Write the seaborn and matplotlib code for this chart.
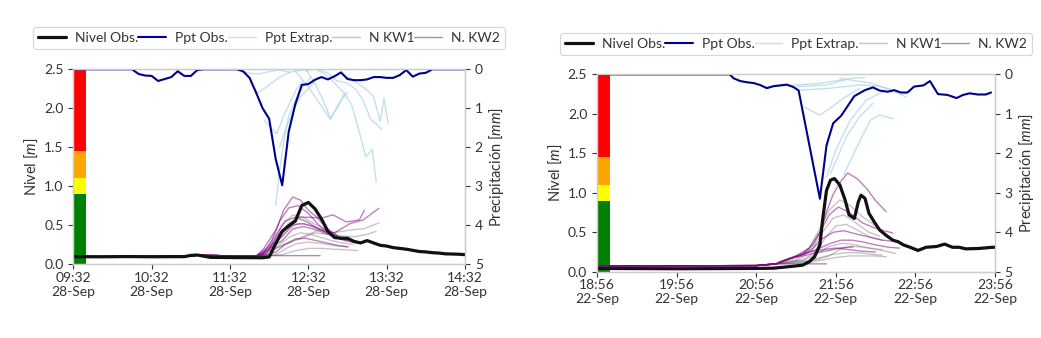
import numpy as np
import pandas as pd
import matplotlib
matplotlib.use("Agg")
import matplotlib.pyplot as plt
import matplotlib.dates as mdates
from matplotlib.lines import Line2D
import seaborn as sns

# ---------------- data: left panel (28-Sep, start 09:32) ----------------
L_start = "2021-09-28 09:32"
# observed precipitation (minutes from start, mm)
L_ppt_t = [0, 45, 50, 55, 60, 65, 70, 75, 80, 85, 90, 95, 100, 125, 130, 135, 140, 145, 150,
           155, 160, 165, 170, 175, 180, 185, 190, 195, 200, 205, 210, 215, 220, 225, 230,
           235, 240, 245, 250, 255, 260, 265, 270, 275, 300]
L_ppt_v = [0, 0, 0.12, 0.16, 0.17, 0.3, 0.25, 0.2, 0.05, 0.17, 0.17, 0.02, 0, 0, 0.05, 0.22,
           0.6, 1.0, 1.27, 2.3, 2.98, 1.6, 0.9, 0.4, 0.38, 0.27, 0.2, 0.26, 0.18, 0.08, 0.25,
           0.28, 0.28, 0.26, 0.2, 0.2, 0.22, 0.22, 0.15, 0.02, 0.19, 0.11, 0.09, 0.0, 0]
# observed level (m)
L_lvl_t = [0, 20, 40, 60, 85, 90, 95, 100, 105, 125, 145, 150, 155, 160, 165, 170, 175, 180,
           185, 190, 195, 200, 205, 210, 215, 220, 225, 230, 235, 240, 245, 250, 255, 260,
           265, 270, 275, 280, 285, 290, 295, 300]
L_lvl_v = [0.094, 0.092, 0.095, 0.093, 0.094, 0.11, 0.115, 0.1, 0.085, 0.082, 0.08, 0.09, 0.26,
           0.42, 0.49, 0.55, 0.75, 0.79, 0.71, 0.58, 0.42, 0.34, 0.33, 0.33, 0.29, 0.27, 0.3,
           0.27, 0.24, 0.23, 0.21, 0.2, 0.19, 0.175, 0.16, 0.155, 0.145, 0.14, 0.13, 0.128,
           0.125, 0.12]
# extrapolated precipitation runs
L_ext = [
    ([128, 135, 142, 150, 158, 166], [0.05, 0.1, 0.12, 0.06, 0.02, 0.08]),
    ([136, 141, 146, 152, 158, 166, 172], [0.35, 0.6, 0.5, 0.35, 0.2, 0.08, 0.03]),
    ([146, 151, 156, 161, 166, 171, 176], [1.3, 1.5, 1.65, 1.2, 0.85, 0.5, 0.3]),
    ([155, 158, 161, 165, 170, 176, 182], [3.5, 2.6, 1.9, 1.2, 0.8, 0.45, 0.2]),
    ([158, 163, 168, 174, 180, 186], [2.0, 1.5, 1.1, 0.7, 0.5, 0.25]),
    ([170, 179, 188, 197, 204, 210], [0.05, 0.4, 0.85, 1.29, 0.83, 0.6]),
    ([172, 178, 184, 190, 197, 203, 208], [0.05, 0.0, 0.3, 0.7, 1.25, 0.95, 0.6]),
    ([178, 185, 192, 200, 207, 213, 219, 224, 229, 232], [0.05, 0.0, 0.1, 0.35, 0.6, 0.9, 1.6, 2.25, 2.05, 2.9]),
    ([188, 195, 202, 209, 216, 222, 228, 232, 236], [0.0, 0.1, 0.3, 0.35, 0.5, 0.8, 1.3, 1.4, 1.55]),
    ([205, 215, 225, 230, 235, 238, 241], [0.1, 0.3, 0.53, 0.7, 1.34, 0.74, 1.38]),
]
# model base (shared history) and forecasts
L_base_t = [0, 60, 85, 95, 110, 125, 140]
L_base_v = [0.095, 0.095, 0.1, 0.112, 0.108, 0.1, 0.1]
L_kw1 = [
    ([145, 152, 160, 168, 176, 184, 192, 200, 208], [0.12, 0.3, 0.5, 0.63, 0.6, 0.52, 0.45, 0.38, 0.33]),
    ([148, 156, 164, 172, 180, 188, 196, 204, 212, 220], [0.13, 0.3, 0.45, 0.52, 0.5, 0.45, 0.4, 0.35, 0.3, 0.28]),
    ([150, 158, 166, 174, 182, 190, 198, 206, 214], [0.12, 0.25, 0.35, 0.4, 0.38, 0.34, 0.3, 0.27, 0.25]),
    ([155, 163, 171, 179, 187, 195, 203, 211], [0.12, 0.2, 0.26, 0.28, 0.27, 0.25, 0.23, 0.22]),
    ([160, 170, 180, 190, 200, 210, 218], [0.12, 0.17, 0.2, 0.2, 0.19, 0.18, 0.17]),
    ([190, 198, 206, 214, 222, 230, 234], [0.45, 0.4, 0.42, 0.44, 0.45, 0.5, 0.53]),
    ([185, 195, 205, 215, 225, 232], [0.4, 0.38, 0.36, 0.35, 0.38, 0.42]),
]
L_kw2 = [
    ([146, 156, 161, 168, 174, 180, 186, 194, 202], [0.2, 0.46, 0.69, 0.86, 0.82, 0.69, 0.61, 0.46, 0.37]),
    ([145, 152, 158, 165, 172, 180, 188, 196, 205], [0.12, 0.3, 0.55, 0.72, 0.75, 0.65, 0.5, 0.4, 0.33]),
    ([148, 155, 162, 170, 178, 186, 194, 202, 210], [0.14, 0.35, 0.55, 0.6, 0.55, 0.47, 0.4, 0.34, 0.3]),
    ([150, 157, 164, 172, 180, 190, 199, 209, 219, 223], [0.18, 0.38, 0.5, 0.6, 0.6, 0.59, 0.63, 0.54, 0.565, 0.69]),
    ([160, 168, 176, 184, 192, 200, 212, 222, 234], [0.35, 0.5, 0.52, 0.48, 0.42, 0.4, 0.52, 0.565, 0.715]),
    ([155, 162, 170, 178, 186, 194, 202, 210], [0.15, 0.25, 0.32, 0.33, 0.3, 0.27, 0.24, 0.22]),
    ([141, 189], [0.107, 0.107]),
    ([160, 168, 176, 184, 192, 200, 208, 216], [0.3, 0.45, 0.48, 0.45, 0.4, 0.35, 0.3, 0.27]),
]

# ---------------- data: right panel (22-Sep, start 18:56) ----------------
R_start = "2021-09-22 18:56"
R_ppt_t = [0, 100, 103, 108, 113, 118, 123, 128, 133, 138, 143, 148, 152, 168, 173, 178, 184,
           189, 194, 202, 208, 213, 219, 224, 229, 234, 239, 246, 251, 257, 264, 271, 276, 281,
           287, 293, 297]
R_ppt_v = [0, 0, 0.1, 0.17, 0.2, 0.22, 0.27, 0.35, 0.3, 0.28, 0.26, 0.32, 0.41, 3.15, 1.8,
           1.24, 1.05, 0.8, 0.55, 0.4, 0.33, 0.41, 0.44, 0.4, 0.46, 0.46, 0.31, 0.28, 0.17, 0.5,
           0.52, 0.6, 0.52, 0.48, 0.51, 0.51, 0.46]
R_lvl_t = [0, 30, 60, 90, 120, 133, 148, 155, 160, 164, 168, 170, 173, 176, 179, 183, 187, 190,
           194, 197, 199, 202, 205, 209, 213, 218, 223, 227, 231, 236, 242, 248, 256, 262, 268,
           273, 278, 288, 298, 300]
R_lvl_v = [0.042, 0.04, 0.038, 0.04, 0.042, 0.045, 0.07, 0.084, 0.127, 0.19, 0.34, 0.65, 1.03,
           1.16, 1.18, 1.1, 0.91, 0.72, 0.675, 0.886, 0.97, 0.93, 0.74, 0.63, 0.53, 0.46, 0.4,
           0.38, 0.34, 0.31, 0.27, 0.31, 0.32, 0.35, 0.31, 0.31, 0.29, 0.295, 0.31, 0.31]
R_ext = [
    ([128, 150, 168, 186], [0.31, 0.27, 0.23, 0.13]),
    ([150, 173, 191, 202], [0.31, 0.27, 0.1, 0.08]),
    ([153, 173, 198, 213, 233], [0.4, 0.36, 0.27, 0.3, 0.48]),
    ([156, 163, 168, 176, 186, 198], [0.82, 0.95, 1.03, 0.85, 0.6, 0.35]),
    ([173, 180, 191, 203, 216], [2.6, 1.92, 1.16, 0.65, 0.44]),
    ([176, 188, 198, 208], [2.51, 1.58, 1.07, 0.74]),
    ([186, 196, 206, 213, 223], [2.55, 1.83, 1.16, 1.03, 1.12]),
    ([183, 208, 233], [0.1, 0.23, 0.57]),
]
R_base_t = [0, 60, 120, 135]
R_base_v = [0.075, 0.075, 0.078, 0.1]
R_kw1 = [
    ([150, 160, 168, 175, 183, 190, 200, 210, 213], [0.15, 0.3, 0.55, 0.78, 0.91, 0.85, 0.7, 0.58, 0.55]),
    ([152, 162, 170, 178, 186, 195, 205, 213], [0.15, 0.28, 0.5, 0.68, 0.72, 0.62, 0.5, 0.45]),
    ([155, 165, 173, 180, 188, 197, 206, 215], [0.15, 0.25, 0.45, 0.58, 0.6, 0.52, 0.44, 0.4]),
    ([155, 165, 175, 185, 195, 205, 215], [0.14, 0.22, 0.32, 0.36, 0.34, 0.3, 0.28]),
    ([158, 168, 178, 188, 198, 208, 215], [0.13, 0.18, 0.22, 0.24, 0.24, 0.22, 0.21]),
    ([160, 170, 180, 190, 200, 210, 218], [0.12, 0.15, 0.18, 0.2, 0.2, 0.2, 0.19]),
    ([165, 175, 185, 195, 205, 215, 225], [0.15, 0.2, 0.3, 0.32, 0.3, 0.27, 0.23]),
]
R_kw2 = [
    ([138, 155, 163, 169, 173, 178, 184, 189, 196, 203, 210, 218],
     [0.13, 0.23, 0.34, 0.53, 0.76, 0.98, 1.15, 1.25, 1.18, 1.06, 0.9, 0.76]),
    ([150, 160, 168, 175, 182, 190, 200, 210, 223], [0.2, 0.3, 0.5, 0.72, 0.82, 0.75, 0.62, 0.55, 0.49]),
    ([155, 163, 170, 178, 186, 195, 205, 215, 228], [0.22, 0.3, 0.42, 0.5, 0.52, 0.48, 0.44, 0.4, 0.38]),
    ([160, 168, 176, 184, 192, 200, 210, 220, 228], [0.25, 0.3, 0.36, 0.4, 0.4, 0.38, 0.34, 0.31, 0.3]),
    ([145, 155, 165, 175, 183, 193], [0.17, 0.2, 0.24, 0.27, 0.3, 0.32]),
    ([145, 173], [0.1, 0.1]),
    ([160, 170, 180, 190, 200, 210], [0.25, 0.28, 0.3, 0.28, 0.26, 0.25]),
]

# alert thresholds for the colour bar (m)
alert_levels = [0.0, 0.9, 1.1, 1.45, 2.5]
alert_colors = ["#008000", "#ffff00", "#ffa500", "#ff0000"]
bar_minutes = 9.5

x_ticks_min = [0, 60, 120, 180, 240, 300]
legend_labels = ["Nivel Obs.", "Ppt Obs.", "Ppt Extrap.", "N KW1", "N. KW2"]

# ---------------- styling ----------------
sns.set_style("ticks")
plt.rcParams["font.family"] = ["Lato", "DejaVu Sans"]
plt.rcParams["mathtext.fontset"] = "custom"
plt.rcParams["mathtext.it"] = "Lato:italic"
plt.rcParams["mathtext.rm"] = "Lato"

C_OBS = "#111111"
C_PPT = "#00008b"
C_EXT = "#add8e6"
C_KW1 = "grey"
C_KW2 = "purple"
SPINE = "#cccccc"
TXT = "#333333"
FS_TICK = 10
FS_LAB = 10.5
FS_LEG = 10


def tt(start, minutes):
    return pd.Timestamp(start) + pd.to_timedelta(np.asarray(minutes, dtype=float), unit="min")


def line(ax, start, t, v, **kw):
    sns.lineplot(x=tt(start, t), y=np.asarray(v, dtype=float), ax=ax, legend=False,
                 estimator=None, sort=False, **kw)


def panel(ax, start, ppt_t, ppt_v, lvl_t, lvl_v, ext, base_t, base_v, kw1, kw2, lbl_y):
    t0 = pd.Timestamp(start)
    # alert colour bar
    for lo, hi, c in zip(alert_levels[:-1], alert_levels[1:], alert_colors):
        ax.bar(t0, hi - lo, bottom=lo, width=pd.Timedelta(minutes=bar_minutes) / pd.Timedelta(days=1),
               align="edge", color=c, linewidth=0, zorder=1)
    # model runs
    for runs, col, a in ((kw1, C_KW1, 0.45), (kw2, C_KW2, 0.5)):
        for t, v in runs:
            bt = [b for b in base_t if b < t[0]]
            bv = [bv_ for b, bv_ in zip(base_t, base_v) if b < t[0]]
            line(ax, start, bt + list(t), bv + list(v), color=col, alpha=a, lw=1.0, zorder=2)
    # observed level
    line(ax, start, lvl_t, lvl_v, color=C_OBS, lw=2.3, zorder=3)
    ax.set_ylim(0, 2.5)
    ax.set_xlim(t0, t0 + pd.Timedelta(minutes=300))
    ax.set_yticks([0, 0.5, 1.0, 1.5, 2.0, 2.5])
    ax.yaxis.set_major_formatter(matplotlib.ticker.FormatStrFormatter("%.1f"))
    ax.set_xticks(list(tt(start, x_ticks_min)))
    ax.xaxis.set_major_formatter(mdates.DateFormatter("%H:%M\n%d-%b"))
    ax.set_ylabel("Nivel [$m$]", fontsize=FS_LAB, color=TXT, labelpad=3)
    ax.set_xlabel("")

    ax2 = ax.twinx()
    for t, v in ext:
        line(ax2, start, t, v, color=C_EXT, alpha=0.75, lw=1.0)
    line(ax2, start, ppt_t, ppt_v, color=C_PPT, lw=1.5)
    ax2.set_ylim(5, 0)
    ax2.set_yticks([0, 1, 2, 3, 4, 5])
    ax2.set_ylabel("Precipitación [$mm$]", fontsize=FS_LAB, color=TXT, labelpad=3)
    ax2.set_xlim(t0, t0 + pd.Timedelta(minutes=300))

    for a in (ax, ax2):
        for s in a.spines.values():
            s.set_color(SPINE)
            s.set_linewidth(0.9)
        a.tick_params(labelsize=FS_TICK, colors=TXT, length=3.5, width=0.8)
    ax.tick_params(axis="x", pad=2)

    handles = [Line2D([], [], color=C_OBS, lw=2.3), Line2D([], [], color=C_PPT, lw=1.5),
               Line2D([], [], color=C_EXT, lw=1.0, alpha=0.75), Line2D([], [], color=C_KW1, lw=1.0, alpha=0.45),
               Line2D([], [], color=C_KW2, lw=1.0, alpha=0.5)]
    leg = ax.legend(handles, legend_labels, loc="center", bbox_to_anchor=(0.5, lbl_y), ncol=5,
                    fontsize=FS_LEG, handlelength=2.0, handletextpad=0.65, columnspacing=0.0,
                    frameon=True, borderpad=0.35, fancybox=True)
    leg.get_frame().set_edgecolor("#cccccc")
    leg.get_frame().set_linewidth(0.8)
    for txt in leg.get_texts():
        txt.set_color(TXT)
    return ax2


fig = plt.figure(figsize=(10.41, 3.38), dpi=100)
axL = fig.add_axes([0.0704, 0.219, 0.3763, 0.576])
axR = fig.add_axes([0.5735, 0.196, 0.3823, 0.584])
panel(axL, L_start, L_ppt_t, L_ppt_v, L_lvl_t, L_lvl_v, L_ext, L_base_t, L_base_v, L_kw1, L_kw2, 1.16)
panel(axR, R_start, R_ppt_t, R_ppt_v, R_lvl_t, R_lvl_v, R_ext, R_base_t, R_base_v, R_kw1, R_kw2, 1.153)

fig.savefig("out.png", dpi=100)
